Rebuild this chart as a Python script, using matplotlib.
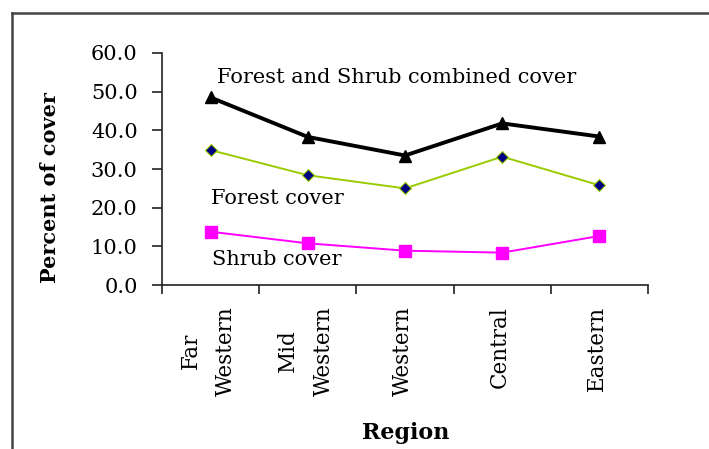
import numpy as np
import matplotlib.pyplot as plt
from matplotlib.lines import Line2D

# --- Veri ---
regions = ['Far\nWestern', 'Mid\nWestern', 'Western', 'Central', 'Eastern']
combined = [48.5, 38.3, 33.5, 41.8, 38.4]
forest = [34.9, 28.4, 25.0, 33.2, 25.8]
shrub = [13.8, 10.8, 8.9, 8.4, 12.7]
y_ticks = [0, 10, 20, 30, 40, 50, 60]

plt.rcParams['font.family'] = ['DejaVu Serif']

fig = plt.figure(figsize=(7.09, 4.49), dpi=100)
ax = fig.add_axes([0.2285, 0.365, 0.6855, 0.517])

x = np.arange(len(regions))
ax.plot(x, combined, color='black', lw=2.8, marker='^', ms=9, zorder=3)
ax.plot(x, forest, color='#99cc00', lw=1.4, marker='D', ms=6.5,
        mfc='#000080', mec='#99cc00', mew=0.8, zorder=3)
ax.plot(x, shrub, color='#ff00ff', lw=1.4, marker='s', ms=8, zorder=3)

# --- Eksenler ---
ax.set_xlim(-0.5, len(regions) - 0.5)
ax.set_ylim(0, 60)
ax.set_yticks(y_ticks)
ax.set_yticklabels(['%.1f' % v for v in y_ticks], fontsize=15)
ax.set_xticks(np.arange(len(regions) + 1) - 0.5)
ax.set_xticklabels([])
ax.tick_params(axis='both', direction='out', length=6.5, width=1.2, color='#222222')
ax.tick_params(axis='y', length=7.5, pad=10)
for s in ['top', 'right']:
    ax.spines[s].set_visible(False)
for s in ['left', 'bottom']:
    ax.spines[s].set_linewidth(1.2)
    ax.spines[s].set_color('#222222')

for i, r in enumerate(regions):
    ax.annotate(r, xy=(i, 0), xycoords='data', xytext=(-1.5, -15),
                textcoords='offset points', rotation=90, ha='center',
                va='top', multialignment='center', fontsize=15.5,
                linespacing=1.8)

ax.set_ylabel('Percent of cover', fontsize=15, fontweight='bold')
ax.yaxis.set_label_coords(-0.21, 0.42)
fig.text(0.572, 0.035, 'Region', fontsize=16, fontweight='bold',
         ha='center', va='center')

# --- Seri etiketleri ---
ax.text(0.07, 53.7, 'Forest and Shrub combined cover', fontsize=15, va='center')
ax.text(0.0, 22.5, 'Forest cover', fontsize=15, va='center')
ax.text(0.01, 6.5, 'Shrub cover', fontsize=15, va='center')

# --- Cerceve ---
fig.add_artist(Line2D([11.5 / 709, 11.5 / 709], [0, 1 - 13 / 449],
                      color='#444444', lw=1.8))
fig.add_artist(Line2D([11.5 / 709, 1], [1 - 13 / 449, 1 - 13 / 449],
                      color='#444444', lw=1.8))

fig.savefig('out.png', dpi=100)
